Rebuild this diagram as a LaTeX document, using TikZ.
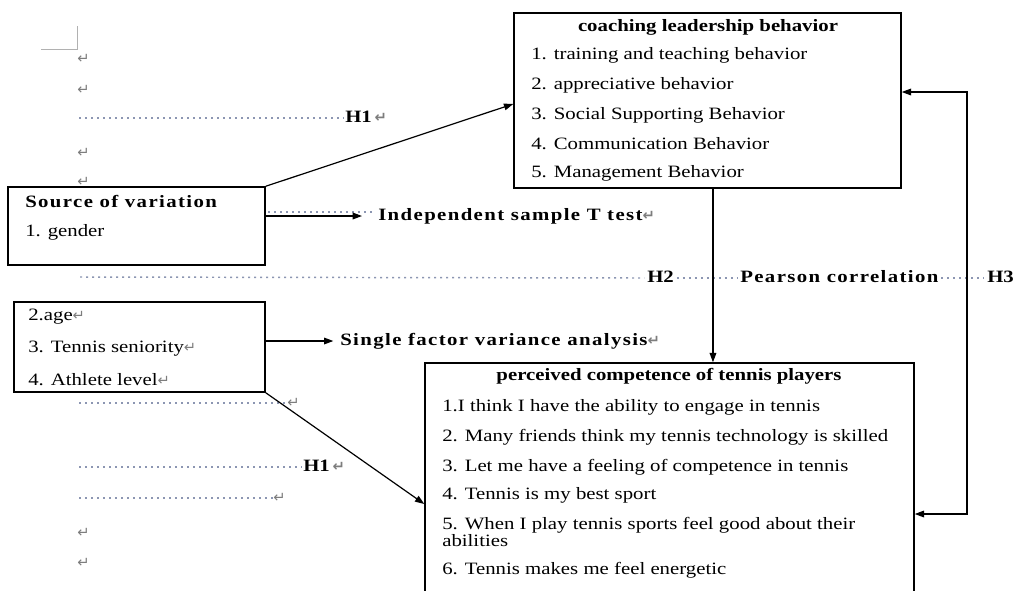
\documentclass[tikz,border=0pt]{standalone}
\usepackage{fontspec}
\setmainfont{Liberation Serif}[FakeStretch=1.2]
\newfontfamily\spacedfont{Liberation Serif}[FakeStretch=1.2,LetterSpace=8]
\newfontfamily\retfont{DejaVu Sans}
\usetikzlibrary{arrows.meta,fit,calc}
\definecolor{dotc}{RGB}{140,150,178}
\definecolor{retc}{RGB}{125,125,125}
\newcommand\fsz{\fontsize{13}{15.6}\selectfont}
\newcommand\rmk{{\retfont\fontsize{11}{12}\selectfont\color{retc}↵}}
\begin{document}
\begin{tikzpicture}[x=0.75pt,y=-0.75pt,
 box/.style={draw, line width=1.1pt, inner sep=0pt},
 txt/.style={anchor=west, inner sep=0pt, text height=9pt, text depth=3pt, font=\fsz},
 btxt/.style={txt, font=\fsz\bfseries},
 stxt/.style={txt, font=\fsz\spacedfont\bfseries},
 tipA/.tip={Triangle[length=7pt,width=5pt]},
 conn/.style={-tipA, line width=0.9pt},
 leader/.style={dotc, line width=1.1pt, dash pattern=on 1.5pt off 3pt}]
\useasboundingbox (0,0) rectangle (1019,590);

% boxes
\node[box, fit={(514,13) (901,188)}] (clb) {};
\node[box, fit={(8,187) (265,265)}] (src) {};
\node[box, fit={(14,302) (265,392)}] (oth) {};
\node[box, fit={(425,363) (914,645)}] (pcp) {};

% corner mark
\draw[retc!60, line width=0.6pt] (41,49) -- (77,49) -- (77,26);

% top box text
\node[btxt, anchor=center] (clbT) at (708,27) {coaching leadership behavior};
\node[txt] (c1) at (531,55) {1. training and teaching behavior};
\node[txt] (c2) at (531,85) {2. appreciative behavior};
\node[txt] (c3) at (531,115) {3. Social Supporting Behavior};
\node[txt] (c4) at (531,145) {4. Communication Behavior};
\node[txt] (c5) at (531,173) {5. Management Behavior};

% source box text
\node[stxt] (srcT) at (25,203) {Source of variation};
\node[txt] (s1) at (25,232) {1. gender};

% other variables box
\node[txt] (o2) at (28,316) {2.age\rmk};
\node[txt] (o3) at (28,348) {3. Tennis seniority\rmk};
\node[txt] (o4) at (28,381) {4. Athlete level\rmk};

% perceived competence box
\node[btxt, anchor=center] (pT) at (669,376) {perceived competence of tennis players};
\node[txt] (p1) at (442,407) {1.I think I have the ability to engage in tennis};
\node[txt] (p2) at (442,437) {2. Many friends think my tennis technology is skilled};
\node[txt] (p3) at (442,467) {3. Let me have a feeling of competence in tennis};
\node[txt] (p4) at (442,495) {4. Tennis is my best sport};
\node[txt] (p5a) at (442,525) {5. When I play tennis sports feel good about their};
\node[txt] (p5b) at (442,542) {abilities};
\node[txt] (p6) at (442,570) {6. Tennis makes me feel energetic};

% return marks on the left
\node[txt] (r1) at (77,59) {\rmk};
\node[txt] (r2) at (77,90) {\rmk};
\node[txt] (r3) at (77,153) {\rmk};
\node[txt] (r4) at (77,182) {\rmk};
\node[txt] (r7) at (77,533) {\rmk};
\node[txt] (r8) at (77,563) {\rmk};

% labels with leaders
\node[btxt] (h1a) at (345,118) {H1\,\rmk};
\draw[leader] (79,118) -- ([xshift=-1pt]h1a.west);

\node[stxt] (ind) at (378,216) {Independent sample T test\rmk};
\draw[leader] (268,212) -- (373,212);

\node[btxt] (h2) at (647,278) {H2};
\node[stxt] (pear) at (740,278) {Pearson correlation};
\node[btxt] (h3) at (987,278) {H3};
\draw[leader] (80,277) -- ([xshift=-2pt]h2.west);
\draw[leader] ([xshift=2pt]h2.east) -- ([xshift=-2pt]pear.west);
\draw[leader] ([xshift=2pt]pear.east) -- ([xshift=-2pt]h3.west);

\node[stxt] (sfa) at (340,341) {Single factor variance analysis\rmk};

\node[txt] (r5) at (287,403) {\rmk};
\draw[leader] (79,403) -- (r5.west);
\node[btxt] (h1b) at (303,467) {H1\,\rmk};
\draw[leader] (79,467) -- ([xshift=-1pt]h1b.west);
\node[txt] (r6) at (273,498) {\rmk};
\draw[leader] (79,498) -- (r6.west);

% connectors
\draw[conn] (src.north east) -- ([yshift=-2.6pt]clb.west);
\draw[conn] (src.east |- ind.west) -- ([xshift=-12pt]ind.west);
\draw[conn] (oth.east |- sfa.west) -- ([xshift=-5pt]sfa.west);
\draw[conn] (oth.south east) -- (pcp.west);
\draw[conn] ([xshift=4.1pt]clb.south) -- ([xshift=4.1pt]clb.south |- pcp.north);
\coordinate (lp) at (967,92);
\draw[tipA-tipA, line width=0.9pt] ([yshift=-7.5pt]pcp.east) -| (lp) -- (lp -| clb.east);
\end{tikzpicture}
\end{document}
